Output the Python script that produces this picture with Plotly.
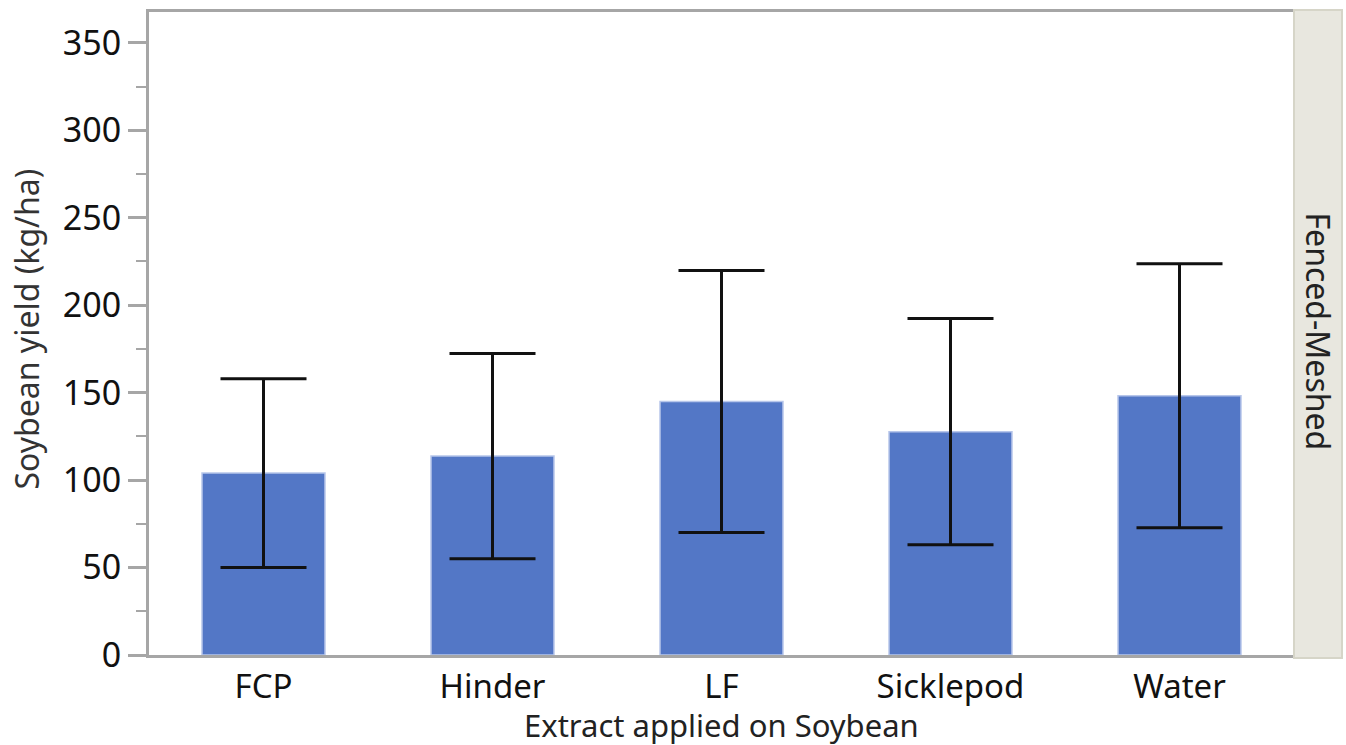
import plotly.graph_objects as go

# Soybean yield by extract treatment (Fenced-Meshed plots)
extracts = ["FCP", "Hinder", "LF", "Sicklepod", "Water"]
mean_yield = [104, 113.7, 144.9, 127.7, 148.2]
yield_err = [54, 58.7, 74.9, 64.7, 75.5]

FONT = "Noto Sans"
AXIS_GREY = "#A6A6A6"
PLOT_W, PLOT_H = 1145, 646

fig = go.Figure()
fig.add_trace(go.Bar(
    x=extracts,
    y=mean_yield,
    width=0.537,
    marker=dict(color="#5377C6", line=dict(color="#B7C6EA", width=1.5)),
    error_y=dict(type="data", array=yield_err, visible=True,
                 color="#111111", thickness=3, width=43),
    showlegend=False,
))

fig.update_layout(
    width=1346, height=745,
    margin=dict(l=149, r=52, t=9, b=90),
    paper_bgcolor="white", plot_bgcolor="white",
    font=dict(family=FONT, size=33, color="#111111"),
)

fig.update_xaxes(
    showline=True, linecolor=AXIS_GREY, linewidth=3, mirror=True,
    showgrid=False, ticks="",
    tickfont=dict(size=33, color="#111111"),
)

fig.update_yaxes(
    range=[0, 367.6],
    showline=True, linecolor=AXIS_GREY, linewidth=3,
    showgrid=False, zeroline=False,
    ticks="outside", ticklen=18, tickwidth=3, tickcolor=AXIS_GREY,
    dtick=50, tick0=0,
    minor=dict(ticks="outside", ticklen=10, tickwidth=2, tickcolor=AXIS_GREY, dtick=25),
    tickfont=dict(size=34, color="#111111"),
)

# Axis titles
fig.add_annotation(text="Extract applied on Soybean", xref="paper", yref="paper",
                   x=0.5, y=-70 / PLOT_H, showarrow=False,
                   xanchor="center", yanchor="middle",
                   font=dict(family=FONT, size=31, color="#222222"))
fig.add_annotation(text="Soybean yield (kg/ha)", xref="paper", yref="paper",
                   x=-122 / PLOT_W, y=(655 - 328) / PLOT_H, showarrow=False,
                   textangle=-90, xanchor="center", yanchor="middle",
                   font=dict(family=FONT, size=32, color="#333333"))

# Facet strip on the right
fig.add_shape(type="rect", xref="paper", yref="paper",
              x0=1.0, x1=1 + 48 / PLOT_W, y0=-3 / PLOT_H, y1=1 + 2 / PLOT_H,
              fillcolor="#E8E7DF", line=dict(color="#D6D5C8", width=2), layer="above")
fig.add_annotation(text="Fenced-Meshed", xref="paper", yref="paper",
                   x=1 + 24 / PLOT_W, y=(655 - 330) / PLOT_H, showarrow=False, textangle=90,
                   font=dict(family=FONT, size=32, color="#222222"),
                   xanchor="center", yanchor="middle")

fig.write_html("out.html")
